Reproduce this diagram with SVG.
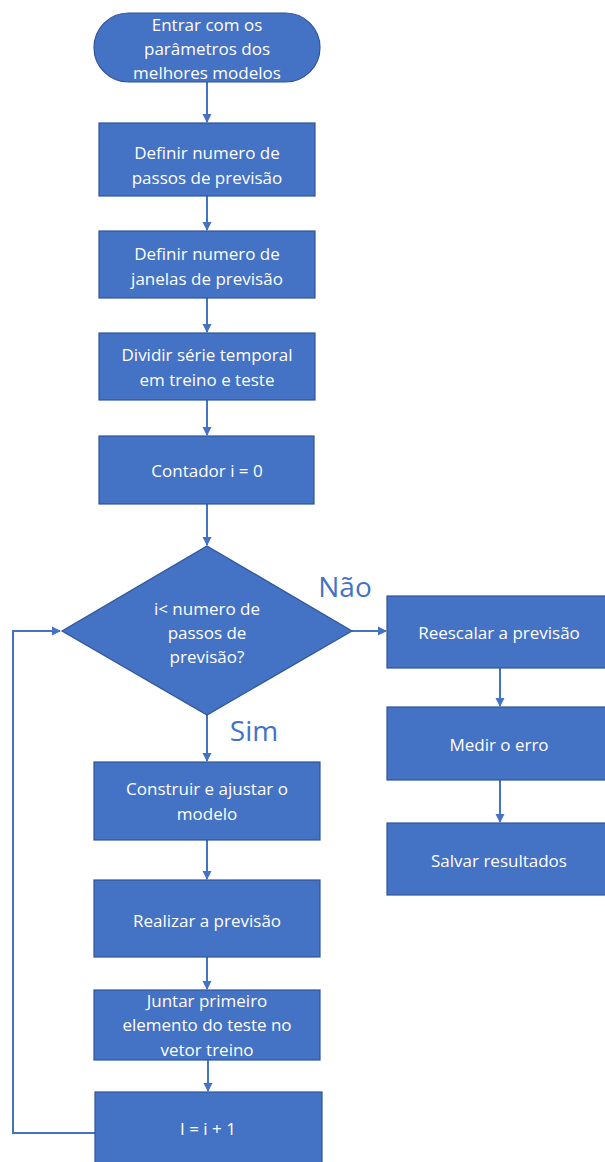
<svg xmlns="http://www.w3.org/2000/svg" width="605" height="1162" viewBox="0 0 605 1162">
<style>
.n{fill:#4472C4;stroke:#2F5597;stroke-width:1.2}
.t{fill:#FFFFFF;font-family:"Open Sans","Noto Sans",sans-serif;font-size:17px;text-anchor:middle;dominant-baseline:central}
.c{fill:none;stroke:#4472C4;stroke-width:2}
.lb{fill:#4472C4;font-family:"Open Sans","Noto Sans",sans-serif;font-size:28px;text-anchor:middle;dominant-baseline:central}
</style>
<defs>
<marker id="ah" markerWidth="10" markerHeight="10" refX="8" refY="5" orient="auto" markerUnits="userSpaceOnUse">
<path d="M0,0.5 L9,5 L0,9.5 Z" fill="#4472C4"/>
</marker>
</defs>
<rect width="605" height="1162" fill="#FFFFFF"/>
<g id="connectors">
<line class="c" x1="207" y1="82" x2="207" y2="122" marker-end="url(#ah)"/>
<line class="c" x1="207" y1="196" x2="207" y2="230" marker-end="url(#ah)"/>
<line class="c" x1="207" y1="298" x2="207" y2="332" marker-end="url(#ah)"/>
<line class="c" x1="207" y1="400" x2="207" y2="435" marker-end="url(#ah)"/>
<line class="c" x1="207" y1="504" x2="207" y2="545" marker-end="url(#ah)"/>
<line class="c" x1="352" y1="631" x2="386" y2="631" marker-end="url(#ah)"/>
<line class="c" x1="500" y1="668" x2="500" y2="706" marker-end="url(#ah)"/>
<line class="c" x1="500" y1="780" x2="500" y2="822" marker-end="url(#ah)"/>
<line class="c" x1="207" y1="715" x2="207" y2="761" marker-end="url(#ah)"/>
<line class="c" x1="207" y1="840" x2="207" y2="879" marker-end="url(#ah)"/>
<line class="c" x1="207" y1="957" x2="207" y2="989" marker-end="url(#ah)"/>
<line class="c" x1="208" y1="1060" x2="208" y2="1091" marker-end="url(#ah)"/>
<polyline class="c" points="95,1133 13,1133 13,631 60,631" marker-end="url(#ah)"/>
<text class="lb" x="345" y="586">Não</text>
<text class="lb" x="254" y="730">Sim</text>
</g>
<g id="start">
<rect class="n" x="94" y="13" width="226" height="69" rx="34.5" ry="34.5"/>
<text class="t" x="207" y="24">Entrar com os</text>
<text class="t" x="207" y="48">parâmetros dos</text>
<text class="t" x="207" y="72">melhores modelos</text>
</g>
<g id="passos">
<rect class="n" x="99" y="123" width="216" height="73"/>
<text class="t" x="207" y="152">Definir numero de</text>
<text class="t" x="207" y="177">passos de previsão</text>
</g>
<g id="janelas">
<rect class="n" x="99" y="231" width="216" height="67"/>
<text class="t" x="207" y="253">Definir numero de</text>
<text class="t" x="207" y="278">janelas de previsão</text>
</g>
<g id="dividir">
<rect class="n" x="99" y="333" width="216" height="67"/>
<text class="t" x="207" y="354">Dividir série temporal</text>
<text class="t" x="207" y="379">em treino e teste</text>
</g>
<g id="contador">
<rect class="n" x="99" y="436" width="215" height="68"/>
<text class="t" x="207" y="470">Contador i = 0</text>
</g>
<g id="decisao">
<polygon class="n" points="207,546 352,631 207,715 62,631"/>
<text class="t" x="207" y="608">i&lt; numero de</text>
<text class="t" x="207" y="632">passos de</text>
<text class="t" x="207" y="656">previsão?</text>
</g>
<g id="reescalar">
<rect class="n" x="387" y="596" width="220" height="72"/>
<text class="t" x="499" y="632">Reescalar a previsão</text>
</g>
<g id="medir">
<rect class="n" x="387" y="707" width="220" height="73"/>
<text class="t" x="499" y="744">Medir o erro</text>
</g>
<g id="salvar">
<rect class="n" x="387" y="823" width="220" height="72"/>
<text class="t" x="499" y="860">Salvar resultados</text>
</g>
<g id="construir">
<rect class="n" x="94" y="762" width="226" height="78"/>
<text class="t" x="207" y="788">Construir e ajustar o</text>
<text class="t" x="207" y="813">modelo</text>
</g>
<g id="realizar">
<rect class="n" x="94" y="880" width="226" height="77"/>
<text class="t" x="207" y="920">Realizar a previsão</text>
</g>
<g id="juntar">
<rect class="n" x="94" y="990" width="226" height="70"/>
<text class="t" x="207" y="1000">Juntar primeiro</text>
<text class="t" x="207" y="1024">elemento do teste no</text>
<text class="t" x="207" y="1049">vetor treino</text>
</g>
<g id="incremento">
<rect class="n" x="95" y="1092" width="227" height="72"/>
<text class="t" x="208" y="1128">I = i + 1</text>
</g>
</svg>
